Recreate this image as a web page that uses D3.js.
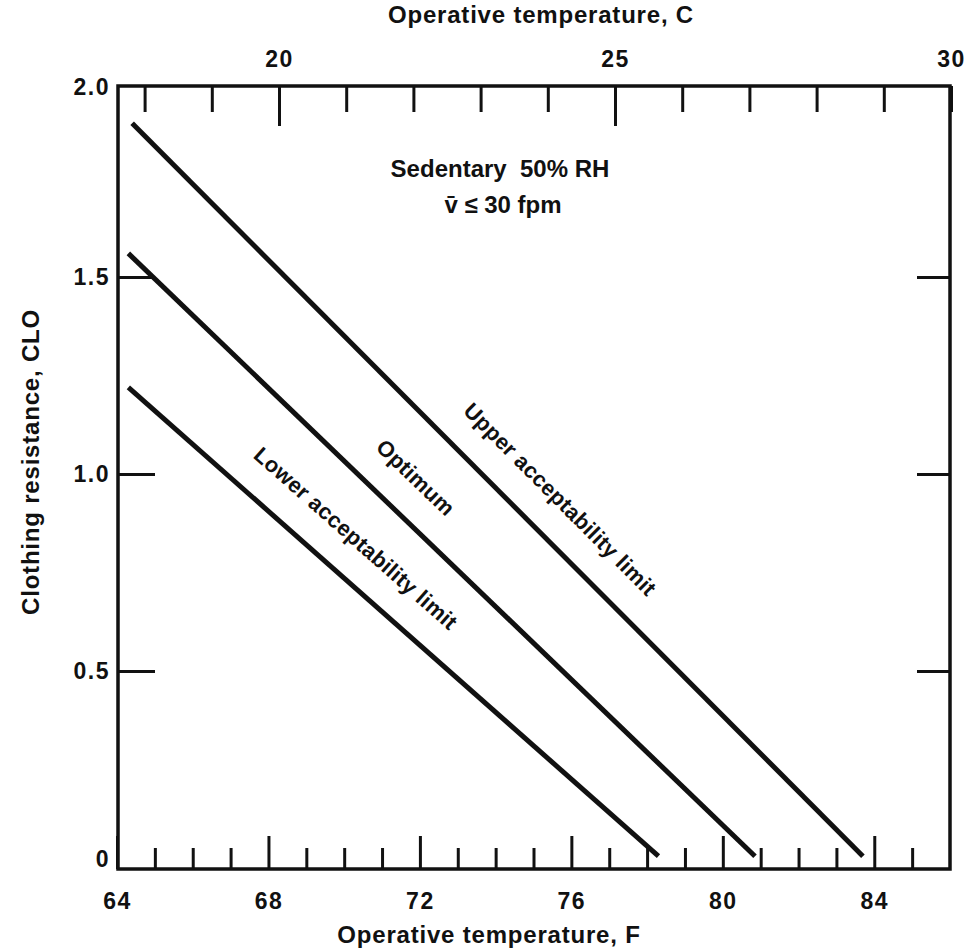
<!DOCTYPE html>
<html>
<head>
<meta charset="utf-8">
<script src="https://cdn.jsdelivr.net/npm/d3@7"></script>
<style>
  body { margin: 0; background: #fff; }
  svg text { font-family: 'Liberation Sans', Arial, sans-serif; fill: #111; }
</style>
</head>
<body>
<script>
// Wrap everything so the chart variables stay local
;(() => {
  // bottom axis, operative temperature in F
  const fTicks = [64, 65, 66, 67, 68, 69, 70, 71, 72, 73, 74, 75, 76, 77, 78, 79, 80, 81, 82, 83, 84, 85]
  const fLabels = [64, 68, 72, 76, 80, 84]
  // top axis, operative temperature in C
  const cTicks = [18, 19, 20, 21, 22, 23, 24, 25, 26, 27, 28, 29, 30]
  const cLabels = [20, 25, 30]
  // left axis, clothing resistance
  const cloTicks = [0, 0.5, 1.0, 1.5, 2.0]

  // the three comfort lines, endpoints as [F, CLO]
  const lineNames = ['Upper acceptability limit', 'Optimum', 'Lower acceptability limit']
  const upperLimit = [[64.4, 1.89], [83.7, 0.03]]
  const optimum = [[64.3, 1.56], [80.85, 0.03]]
  const lowerLimit = [[64.3, 1.22], [78.3, 0.03]]

  const width = 967,
    height = 951

  // plot frame
  const left = 118,
    right = 950,
    top = 86,
    bottom = 869

  const svg = d3
    .select('body')
    .append('svg')
    .attr('width', width)
    .attr('height', height)

  const x = d3.scaleLinear().domain([64, 86]).range([117, 950])
  // Celsius scale read straight from the top ticks (the scan is a bit off from F)
  const xC = d3.scaleLinear().domain([20, 30]).range([279, 951])
  const y = d3.scaleLinear().domain([0, 2]).range([868, 80])

  const isMajorF = d => fLabels.includes(d)
  const isMajorC = d => cLabels.includes(d)

  // bottom axis, ticks point inward
  const xAxis = svg
    .append('g')
    .attr('transform', `translate(0,${bottom})`)
    .call(
      d3
        .axisBottom(x)
        .tickValues(fTicks)
        .tickSizeOuter(0)
        .tickPadding(18)
        .tickFormat(d => (isMajorF(d) ? d : ''))
    )
  xAxis.selectAll('.tick line').attr('y2', d => (isMajorF(d) ? -33 : -21))

  // top axis in C
  const cAxis = svg
    .append('g')
    .attr('transform', `translate(0,${top})`)
    .call(
      d3
        .axisTop(xC)
        .tickValues(cTicks)
        .tickSizeOuter(0)
        .tickPadding(13)
        .tickFormat(d => (isMajorC(d) ? d : ''))
    )
  cAxis.selectAll('.tick line').attr('y2', d => (isMajorC(d) && d < 30 ? 40 : 26))

  // left axis
  const yAxis = svg
    .append('g')
    .attr('transform', `translate(${left},0)`)
    .call(
      d3
        .axisLeft(y)
        .tickValues(cloTicks)
        .tickSizeOuter(0)
        .tickSizeInner(-37)
        .tickPadding(8)
        .tickFormat(d => (d === 0 ? '0' : d3.format('.1f')(d)))
    )
  yAxis.selectAll('.tick line').attr('display', d => (d === 0 || d === 2 ? 'none' : null))
  // the end labels sit a little inside the frame in the original
  yAxis.selectAll('.tick text').attr('y', d => (d === 0 ? -9 : d === 2 ? 7 : 0))

  // right axis, ticks only
  const rAxis = svg
    .append('g')
    .attr('transform', `translate(${right},0)`)
    .call(
      d3
        .axisRight(y)
        .tickValues(cloTicks.filter(d => d > 0 && d < 2))
        .tickSizeOuter(0)
        .tickSizeInner(-33)
        .tickFormat('')
    )

  // common axis styling
  svg.selectAll('.domain').remove()
  svg.selectAll('.tick line').attr('stroke', '#111').attr('stroke-width', 3)
  svg
    .selectAll('.tick text')
    .attr('fill', '#111')
    .style('font-size', '23px')
    .style('font-weight', 'bold')
    .style('letter-spacing', '1.5px')

  // frame around the plot
  svg
    .append('rect')
    .attr('x', left)
    .attr('y', top)
    .attr('width', right - left)
    .attr('height', bottom - top)
    .attr('fill', 'none')
    .attr('stroke', '#111')
    .attr('stroke-width', 3.5)

  // comfort lines
  const line = d3
    .line()
    .x(d => x(d[0]))
    .y(d => y(d[1]))

  const series = [upperLimit, optimum, lowerLimit]
  svg
    .selectAll('.comfort')
    .data(series)
    .enter()
    .append('path')
    .attr('class', 'comfort')
    .attr('d', line)
    .attr('fill', 'none')
    .attr('stroke', '#111')
    .attr('stroke-width', 5)

  // labels float in the band above each line, turned to follow it
  const labelF = [75.0, 71.2, 69.65] // where along each line (F) the label is anchored
  series.forEach((s, i) => {
    const p0 = [x(s[0][0]), y(s[0][1])],
      p1 = [x(s[1][0]), y(s[1][1])]
    const angle = (Math.atan2(p1[1] - p0[1], p1[0] - p0[0]) * 180) / Math.PI
    const t = (labelF[i] - s[0][0]) / (s[1][0] - s[0][0])
    const px = p0[0] + t * (p1[0] - p0[0]),
      py = p0[1] + t * (p1[1] - p0[1])
    svg
      .append('text')
      .attr('transform', `translate(${px},${py}) rotate(${angle})`)
      .attr('y', -30)
      .attr('text-anchor', 'middle')
      .style('font-size', '22px')
      .style('font-weight', 'bold')
      .style('letter-spacing', '0.3px')
      .text(lineNames[i])
  })

  // condition notes
  svg
    .append('text')
    .attr('x', 500)
    .attr('y', 177)
    .attr('text-anchor', 'middle')
    .style('font-size', '24px')
    .style('font-weight', 'bold')
    .style('white-space', 'pre')
    .text('Sedentary  50% RH')

  svg
    .append('text')
    .attr('x', 503)
    .attr('y', 213)
    .attr('text-anchor', 'middle')
    .style('font-size', '24px')
    .style('font-weight', 'bold')
    .text('v\u0304 \u2264 30 fpm')

  // axis titles
  svg
    .append('text')
    .attr('x', 489)
    .attr('y', 943)
    .attr('text-anchor', 'middle')
    .style('font-size', '24px')
    .style('font-weight', 'bold')
    .style('letter-spacing', '0.8px')
    .text('Operative temperature, F')

  svg
    .append('text')
    .attr('x', 541)
    .attr('y', 23)
    .attr('text-anchor', 'middle')
    .style('font-size', '24px')
    .style('font-weight', 'bold')
    .style('letter-spacing', '0.8px')
    .text('Operative temperature, C')

  svg
    .append('text')
    .attr('transform', `translate(39,462) rotate(-90)`)
    .attr('text-anchor', 'middle')
    .style('font-size', '24px')
    .style('font-weight', 'bold')
    .style('letter-spacing', '0.8px')
    .text('Clothing resistance, CLO')
})()
</script>
</body>
</html>
